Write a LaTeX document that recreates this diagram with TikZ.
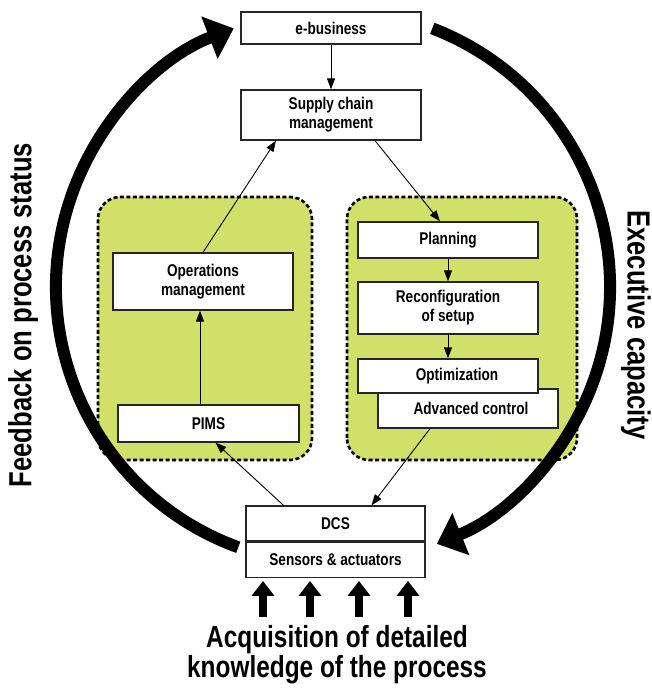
\documentclass[tikz,border=0pt]{standalone}
\usepackage{fontspec}
\newfontfamily\condfont{Liberation Sans}[FakeStretch=0.8]
\usetikzlibrary{arrows.meta,calc}
\definecolor{groupgreen}{RGB}{208,224,104}
\tikzset{
	box/.style={draw=black!85, line width=1.3pt, fill=white, minimum width=180pt, inner sep=0pt, align=center, font=\condfont\bfseries\fontsize{17}{19}\selectfont},
	group/.style={draw, fill=groupgreen, line width=2.6pt, dash pattern=on 4pt off 2.5pt, rounded corners=22pt},
	flow/.style={line width=0.9pt, -{Triangle[length=11pt,width=8pt]}},
	bigarrow/.style={line width=12pt, -{Triangle[length=26pt,width=44pt]}},
	inarrow/.style={line width=8pt, -{Triangle[length=15pt,width=22pt]}, shorten >=3pt},
	sidelabel/.style={font=\condfont\bfseries\fontsize{32}{34}\selectfont},
	bottomlabel/.style={font=\condfont\bfseries\fontsize{30.5}{31}\selectfont, anchor=base}
}
\begin{document}
\begin{tikzpicture}[x=1pt, y=1pt]
	\useasboundingbox (0,0) rectangle (652,688);

	\draw[group] (98,228) rectangle (312,491);%left group
	\draw[group] (347,228) rectangle (577,491);%right group

	\node[box, minimum height=32pt] (ebiz) at (331,660) {e-business};
	\node[box, minimum height=50pt] (scm) at (331,573) {Supply chain\\management};

	\node[box, minimum height=57pt] (ops) at (203,406.5) {Operations\\management};
	\node[box, minimum width=181pt, minimum height=37pt] (pims) at (208.5,264.5) {PIMS};

	\node[box, minimum height=36pt] (plan) at (448,448) {Planning};
	\node[box, minimum height=52pt] (reconf) at (448,380) {Reconfiguration\\of setup};
	\node[box, minimum height=39pt] (adv) at (468,279.5) {\hspace{6pt}Advanced control};
	\node[box, minimum height=34pt] (opt) at (448,312) {\hspace{18pt}Optimization};

	\node[box, minimum width=179pt, minimum height=35pt] (dcs) at (335.5,164.5) {DCS};
	\node[box, minimum width=179pt, minimum height=35pt, anchor=north] (sensors) at (dcs.south) {Sensors \& actuators};

	% thin connectors
	\draw[flow] (ebiz) -- (scm);
	\draw[flow] (ops.north) -- ([xshift=-55pt]scm.south);
	\draw[flow] ([xshift=44pt]scm.south) -- ([xshift=-8pt]plan.north);
	\draw[flow] ([xshift=-3pt]ops.south |- pims.north) -- ([xshift=-3pt]ops.south);
	\draw[flow] (plan) -- (reconf);
	\draw[flow] (reconf) -- (opt);
	\draw[flow] ([xshift=-52pt]dcs.north) -- ([xshift=7pt]pims.south);
	\draw[flow] ([xshift=-38pt]adv.south) -- ([xshift=36pt]dcs.north);

	% big loop
	\coordinate (c) at (333,401);
	\draw[bigarrow] ($(c)+(250:277pt)$) arc[start angle=250, end angle=111, radius=277pt];%feedback
	\draw[bigarrow] ($(c)+(69:277pt)$) arc[start angle=69, end angle=-68, radius=277pt];%executive

	\node[sidelabel, rotate=90] (feedback) at (23,373) {Feedback on process status};
	\node[sidelabel, rotate=-90] (exec) at (636,363) {Executive capacity};

	% process inputs
	\foreach \i/\x in {1/263,2/310,3/359,4/408}{
		\coordinate (in\i) at (\x,71);
		\draw[inarrow] (in\i) -- (in\i |- sensors.south);
	}
	\node[bottomlabel] (acq) at (337,40) {Acquisition of detailed};
	\node[bottomlabel] (know) at (337,10) {knowledge of the process};
\end{tikzpicture}
\end{document}
